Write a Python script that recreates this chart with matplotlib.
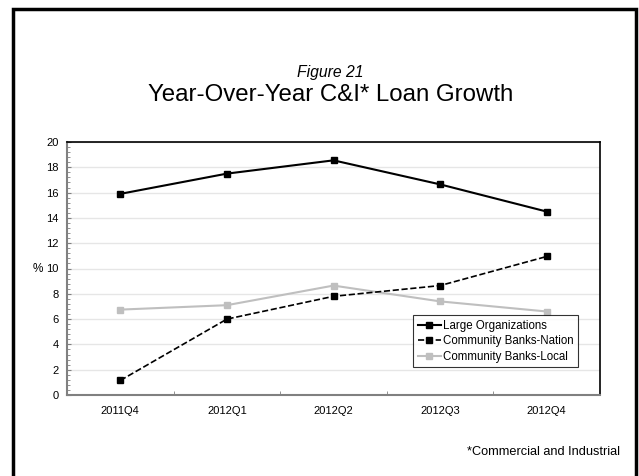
import matplotlib.pyplot as plt
from matplotlib.patches import Rectangle
from matplotlib.ticker import MultipleLocator

plt.rcParams['font.family'] = ['Liberation Sans', 'DejaVu Sans']

quarters = ["2011Q4", "2012Q1", "2012Q2", "2012Q3", "2012Q4"]
large_orgs = [15.9, 17.5, 18.55, 16.65, 14.5]
cb_nation = [1.15, 6.0, 7.8, 8.65, 10.95]
cb_local = [6.75, 7.1, 8.65, 7.4, 6.6]

fig = plt.figure(figsize=(6.39, 4.76), dpi=100)
ax = fig.add_axes([67 / 639, 1 - 395 / 476, 533 / 639, 253 / 476])

x = list(range(len(quarters)))
ax.plot(x, large_orgs, '-', color='black', lw=1.5, marker='s', ms=4.5,
        label="Large Organizations", zorder=4)
ax.plot(x, cb_nation, '--', color='black', lw=1.2, marker='s', ms=4.5,
        label="Community Banks-Nation", zorder=4)
ax.plot(x, cb_local, '-', color='#bfbfbf', lw=1.5, marker='s', ms=4.5,
        label="Community Banks-Local", zorder=3)

ax.set_xlim(-0.5, len(quarters) - 0.5)
ax.set_ylim(0, 20)
ax.yaxis.set_major_locator(MultipleLocator(2))
ax.yaxis.set_minor_locator(MultipleLocator(0.4))
ax.set_xticks(x)
ax.set_xticklabels(quarters)
ax.set_xticks([i + 0.5 for i in range(len(quarters) - 1)], minor=True)
ax.tick_params(axis='x', which='major', length=0, labelsize=8, pad=8)
ax.tick_params(axis='x', which='minor', direction='in', length=3, color='#808080')
ax.tick_params(axis='y', which='major', direction='in', length=3, color='#808080',
               labelsize=8, pad=6)
ax.tick_params(axis='y', which='minor', direction='in', length=2, color='#808080')
ax.grid(axis='y', which='major', color='#e6e6e6', lw=1)
ax.set_axisbelow(True)

for side in ('left', 'bottom'):
    ax.spines[side].set_color('#808080')
    ax.spines[side].set_linewidth(1.5)
for side in ('top', 'right'):
    ax.spines[side].set_color('black')
    ax.spines[side].set_linewidth(1.2)

ax.set_ylabel('%', rotation=0, fontsize=8.5, labelpad=6, va='center')

leg = ax.legend(loc='lower right', bbox_to_anchor=(0.959, 0.11), fontsize=8.3,
                frameon=True, fancybox=False, handlelength=2.0, borderaxespad=0,
                borderpad=0.4, labelspacing=0.3, handletextpad=0.2)
leg.get_frame().set_edgecolor('black')
leg.get_frame().set_linewidth(0.8)

fig.text(0.517, 1 - 73 / 476, "Figure 21", ha='center', va='center',
         fontsize=11.3, style='italic')
fig.text(0.517, 1 - 95 / 476, "Year-Over-Year C&I* Loan Growth", ha='center',
         va='center', fontsize=17.3)
fig.text(620 / 639, 1 - 452 / 476, "*Commercial and Industrial", ha='right',
         va='center', fontsize=9.2)

# outer frame, open at the bottom edge
fig.patches.append(Rectangle((13 / 639, -0.05), 623 / 639, 1.05 - 9 / 476,
                             transform=fig.transFigure, fill=False,
                             edgecolor='black', lw=2.5))

fig.savefig("out.png", dpi=100)
